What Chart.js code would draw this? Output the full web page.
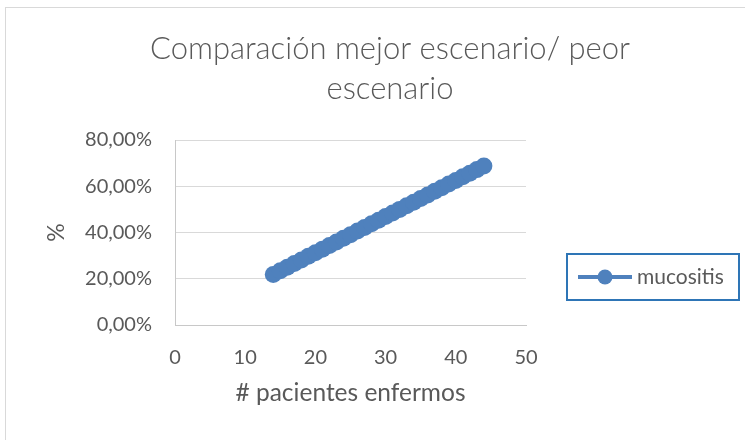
<!DOCTYPE html>
<html lang="es">
<head>
<meta charset="utf-8">
<title>Comparación mejor escenario/ peor escenario</title>
<script src="https://cdn.jsdelivr.net/npm/chart.js@4.4.1/dist/chart.umd.min.js"></script>
<style>
  html, body { margin: 0; padding: 0; background: #ffffff; }
  #wrap { position: relative; width: 745px; height: 440px; }
</style>
</head>
<body>
<div id="wrap"><canvas id="grafico" width="745" height="440"></canvas></div>
<script>
// Número de pacientes enfermos (eje X)
const pacientes = [14, 15, 16, 17, 18, 19, 20, 21, 22, 23, 24, 25, 26, 27, 28, 29,
                   30, 31, 32, 33, 34, 35, 36, 37, 38, 39, 40, 41, 42, 43, 44];
// Porcentaje de mucositis para cada número de pacientes (%)
const mucositis = [21.88, 23.44, 25.00, 26.56, 28.13, 29.69, 31.25, 32.81, 34.38, 35.94,
                   37.50, 39.06, 40.63, 42.19, 43.75, 45.31, 46.88, 48.44, 50.00, 51.56,
                   53.13, 54.69, 56.25, 57.81, 59.38, 60.94, 62.50, 64.06, 65.63, 67.19, 68.75];
// Marcas de los ejes
const ticksX = [0, 10, 20, 30, 40, 50];
const ticksY = [0, 20, 40, 60, 80];

const tituloGrafico = ['Comparación mejor escenario/ peor', 'escenario'];
const tituloX = '# pacientes enfermos';
const tituloY = '%';
const nombreSerie = 'mucositis';

const AZUL = '#4F81BD';
const TEXTO = '#595959';
const FUENTE = 'Lato, "Open Sans", sans-serif';

// Marco exterior del área del gráfico
const marco = {
  id: 'marco',
  beforeDraw(chart) {
    const ctx = chart.ctx;
    ctx.save();
    ctx.fillStyle = '#ffffff';
    ctx.fillRect(0, 0, chart.width, chart.height);
    ctx.strokeStyle = '#d9d9d9';
    ctx.lineWidth = 1;
    ctx.strokeRect(5.5, 7.5, chart.width + 40, chart.height + 40);
    ctx.restore();
  }
};

// Leyenda con recuadro, dibujada en el espacio reservado a la derecha
const leyenda = {
  id: 'leyenda',
  afterDraw(chart) {
    const ds = chart.data.datasets[0];
    const ctx = chart.ctx;
    const x0 = 567, y0 = 254, w = 172, h = 46;
    const cy = y0 + h / 2;
    ctx.save();
    ctx.strokeStyle = '#2E75B6';
    ctx.lineWidth = 2;
    ctx.strokeRect(x0, y0, w, h);
    ctx.strokeStyle = ds.borderColor;
    ctx.lineWidth = 4;
    ctx.beginPath();
    ctx.moveTo(578, cy);
    ctx.lineTo(632, cy);
    ctx.stroke();
    ctx.fillStyle = ds.pointBackgroundColor;
    ctx.beginPath();
    ctx.arc(605, cy, 7.5, 0, Math.PI * 2);
    ctx.fill();
    ctx.fillStyle = TEXTO;
    ctx.font = '21px ' + FUENTE;
    ctx.textAlign = 'left';
    ctx.textBaseline = 'middle';
    ctx.fillText(ds.label, 637, cy);
    ctx.restore();
  }
};

new Chart(document.getElementById('grafico'), {
  type: 'scatter',
  data: {
    datasets: [{
      label: nombreSerie,
      data: pacientes.map((p, i) => ({ x: p, y: mucositis[i] })),
      showLine: true,
      borderColor: AZUL,
      backgroundColor: AZUL,
      pointBackgroundColor: AZUL,
      pointBorderColor: AZUL,
      borderWidth: 4.5,
      pointRadius: 8.5,
      pointBorderWidth: 0,
      pointHoverRadius: 8.5,
      yAxisID: 'y'
    }]
  },
  options: {
    responsive: false,
    animation: false,
    devicePixelRatio: 1,
    layout: { padding: { left: 35, right: 0, top: 0, bottom: 0 } },
    plugins: {
      legend: { display: false },
      tooltip: { enabled: false },
      title: {
        display: true,
        text: tituloGrafico,
        color: TEXTO,
        font: { family: FUENTE, size: 31, weight: 300, lineHeight: 40 / 31 },
        padding: { top: 29, bottom: 31 }
      }
    },
    scales: {
      x: {
        type: 'linear',
        min: ticksX[0],
        max: ticksX[ticksX.length - 1],
        afterBuildTicks(scale) { scale.ticks = ticksX.map(v => ({ value: v })); },
        afterFit(scale) { scale.height = 115; },
        grid: { display: false, drawTicks: false },
        border: { display: true, color: '#c8c8c8', width: 1 },
        ticks: {
          color: TEXTO,
          font: { family: FUENTE, size: 20 },
          padding: 21,
          maxRotation: 0,
          callback: v => String(v)
        },
        title: {
          display: true,
          text: tituloX,
          color: TEXTO,
          font: { family: FUENTE, size: 24.5 },
          padding: { top: 0, bottom: 32 }
        }
      },
      y: {
        type: 'linear',
        position: 'left',
        min: ticksY[0],
        max: ticksY[ticksY.length - 1],
        afterBuildTicks(scale) { scale.ticks = ticksY.map(v => ({ value: v })); },
        afterFit(scale) { scale.width = 140; },
        grid: { color: '#d9d9d9', lineWidth: 1, drawTicks: false },
        border: { display: true, color: '#c8c8c8', width: 1 },
        ticks: {
          color: TEXTO,
          font: { family: FUENTE, size: 20 },
          padding: 23,
          callback: v => v.toFixed(2).replace('.', ',') + '%'
        },
        title: {
          display: true,
          text: tituloY,
          color: TEXTO,
          font: { family: FUENTE, size: 23 },
          padding: { top: 8, bottom: 0 }
        }
      },
      // Eje auxiliar sin marcas: reserva el hueco de la leyenda a la derecha
      leyendaEspacio: {
        type: 'linear',
        position: 'right',
        display: true,
        min: 0,
        max: 1,
        afterFit(scale) { scale.width = 219; },
        grid: { display: false, drawTicks: false },
        border: { display: false },
        ticks: { display: false }
      }
    }
  },
  plugins: [marco, leyenda]
});
</script>
</body>
</html>
